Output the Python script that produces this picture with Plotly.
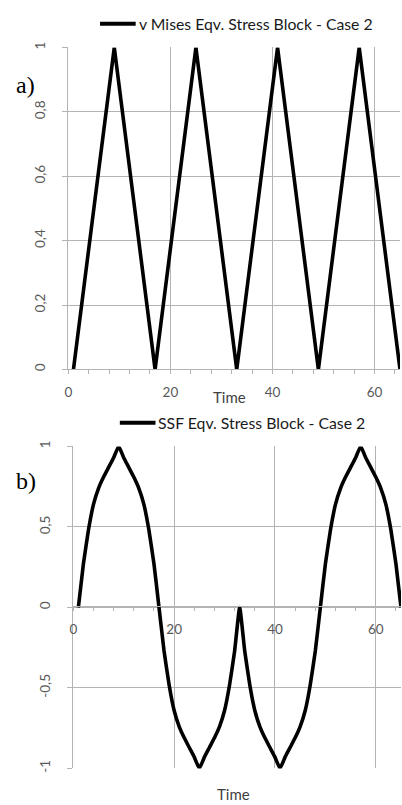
import plotly.graph_objects as go

# ---- data ----
vm_time = [1, 9, 17, 25, 33, 41, 49, 57, 65]
vm_stress = [0, 1, 0, 1, 0, 1, 0, 1, 0]

ssf_time = list(range(1, 66))
ssf_stress = [
    0.00, 0.27, 0.48, 0.64, 0.74, 0.81, 0.87, 0.93, 1.00,
    0.93, 0.87, 0.81, 0.74, 0.64, 0.48, 0.27, 0.00,
    -0.27, -0.48, -0.64, -0.74, -0.81, -0.87, -0.93, -1.00,
    -0.93, -0.87, -0.81, -0.74, -0.64, -0.48, -0.27, 0.00,
    -0.27, -0.48, -0.64, -0.74, -0.81, -0.87, -0.93, -1.00,
    -0.93, -0.87, -0.81, -0.74, -0.64, -0.48, -0.27, 0.00,
    0.27, 0.48, 0.64, 0.74, 0.81, 0.87, 0.93, 1.00,
    0.93, 0.87, 0.81, 0.74, 0.64, 0.48, 0.27, 0.00,
]

x_ticks = [0, 20, 40, 60]
ya_ticks = [0, 0.2, 0.4, 0.6, 0.8, 1]
ya_text = ["0", "0,2", "0,4", "0,6", "0,8", "1"]
yb_ticks = [-1, -0.5, 0, 0.5, 1]
yb_text = ["-1", "-0,5", "0", "0,5", "1"]

legend_a = "v Mises Eqv. Stress Block - Case 2"
legend_b = "SSF Eqv. Stress Block - Case 2"

W, H = 402, 805
GRID = "#b3b3b3"
TICKC = "#595959"
FONT = "Lato"

def px(x):
    return x / W

def py(y):
    return 1 - y / H

fig = go.Figure()
fig.add_trace(go.Scatter(x=vm_time, y=vm_stress, mode="lines",
                         line=dict(color="black", width=3.6),
                         xaxis="x", yaxis="y", showlegend=False))
fig.add_trace(go.Scatter(x=ssf_time, y=ssf_stress, mode="lines",
                         line=dict(color="black", width=3.6, shape="spline", smoothing=0.4),
                         xaxis="x2", yaxis="y2", showlegend=False))

xcommon = dict(range=[0, 65], tickvals=x_ticks, showgrid=True, gridcolor=GRID, gridwidth=1,
               showline=True, linecolor=GRID, linewidth=1, ticks="outside", ticklen=4,
               tickcolor=GRID, tickfont=dict(family=FONT, size=13.5, color=TICKC),
               ticklabelstandoff=6, zeroline=False,
               minor=dict(dtick=4, tick0=0, ticks="outside", ticklen=4, tickcolor=GRID, showgrid=False))

fig.update_layout(
    width=W, height=H, margin=dict(l=0, r=0, t=0, b=0),
    paper_bgcolor="white", plot_bgcolor="white",
    xaxis=dict(domain=[px(65), px(400)], anchor="y", **xcommon),
    yaxis=dict(domain=[py(368), py(42)], range=[0, 1], tickvals=ya_ticks, ticktext=ya_text,
               tickangle=-90, showgrid=True, gridcolor=GRID, showline=True, linecolor=GRID,
               ticks="outside", ticklen=5, tickcolor=GRID, zeroline=False,
               tickfont=dict(family=FONT, size=13.5, color=TICKC), ticklabelstandoff=12),
    xaxis2=dict(domain=[px(70), px(401)], anchor="free", position=py(608), **xcommon),
    yaxis2=dict(domain=[py(772), py(446)], range=[-1, 1], tickvals=yb_ticks, ticktext=yb_text,
                anchor="x2", tickangle=-90, showgrid=True, gridcolor=GRID, showline=True, linecolor=GRID,
                ticks="outside", ticklen=5, tickcolor=GRID, zeroline=False,
                tickfont=dict(family=FONT, size=13.5, color=TICKC), ticklabelstandoff=12),
    showlegend=False,
)

# legends (line sample + text)
fig.add_shape(type="line", xref="paper", yref="paper", x0=px(97), x1=px(133), y0=py(18), y1=py(18),
              line=dict(color="black", width=4))
fig.add_shape(type="line", xref="paper", yref="paper", x0=px(117), x1=px(153), y0=py(422), y1=py(422),
              line=dict(color="black", width=4))

ann = []
ann.append(dict(text=legend_a, x=px(134), y=py(18), xanchor="left", yanchor="middle",
                font=dict(family=FONT, size=15.8, color="#1a1a1a")))
ann.append(dict(text=legend_b, x=px(154), y=py(422), xanchor="left", yanchor="middle",
                font=dict(family=FONT, size=15.8, color="#1a1a1a")))
ann.append(dict(text="Time", x=px(228), y=py(396), xanchor="center", yanchor="middle",
                font=dict(family=FONT, size=15, color="#404040")))
ann.append(dict(text="Time", x=px(232), y=py(798), xanchor="center", yanchor="middle",
                font=dict(family=FONT, size=15, color="#404040")))
ann.append(dict(text="a)", x=px(22), y=py(80), xanchor="center", yanchor="middle",
                font=dict(family="Liberation Serif", size=24, color="black")))
ann.append(dict(text="b)", x=px(22), y=py(481), xanchor="center", yanchor="middle",
                font=dict(family="Liberation Serif", size=24, color="black")))
for a in ann:
    a.update(xref="paper", yref="paper", showarrow=False)
fig.update_layout(annotations=ann)

fig.write_html("out.html")
